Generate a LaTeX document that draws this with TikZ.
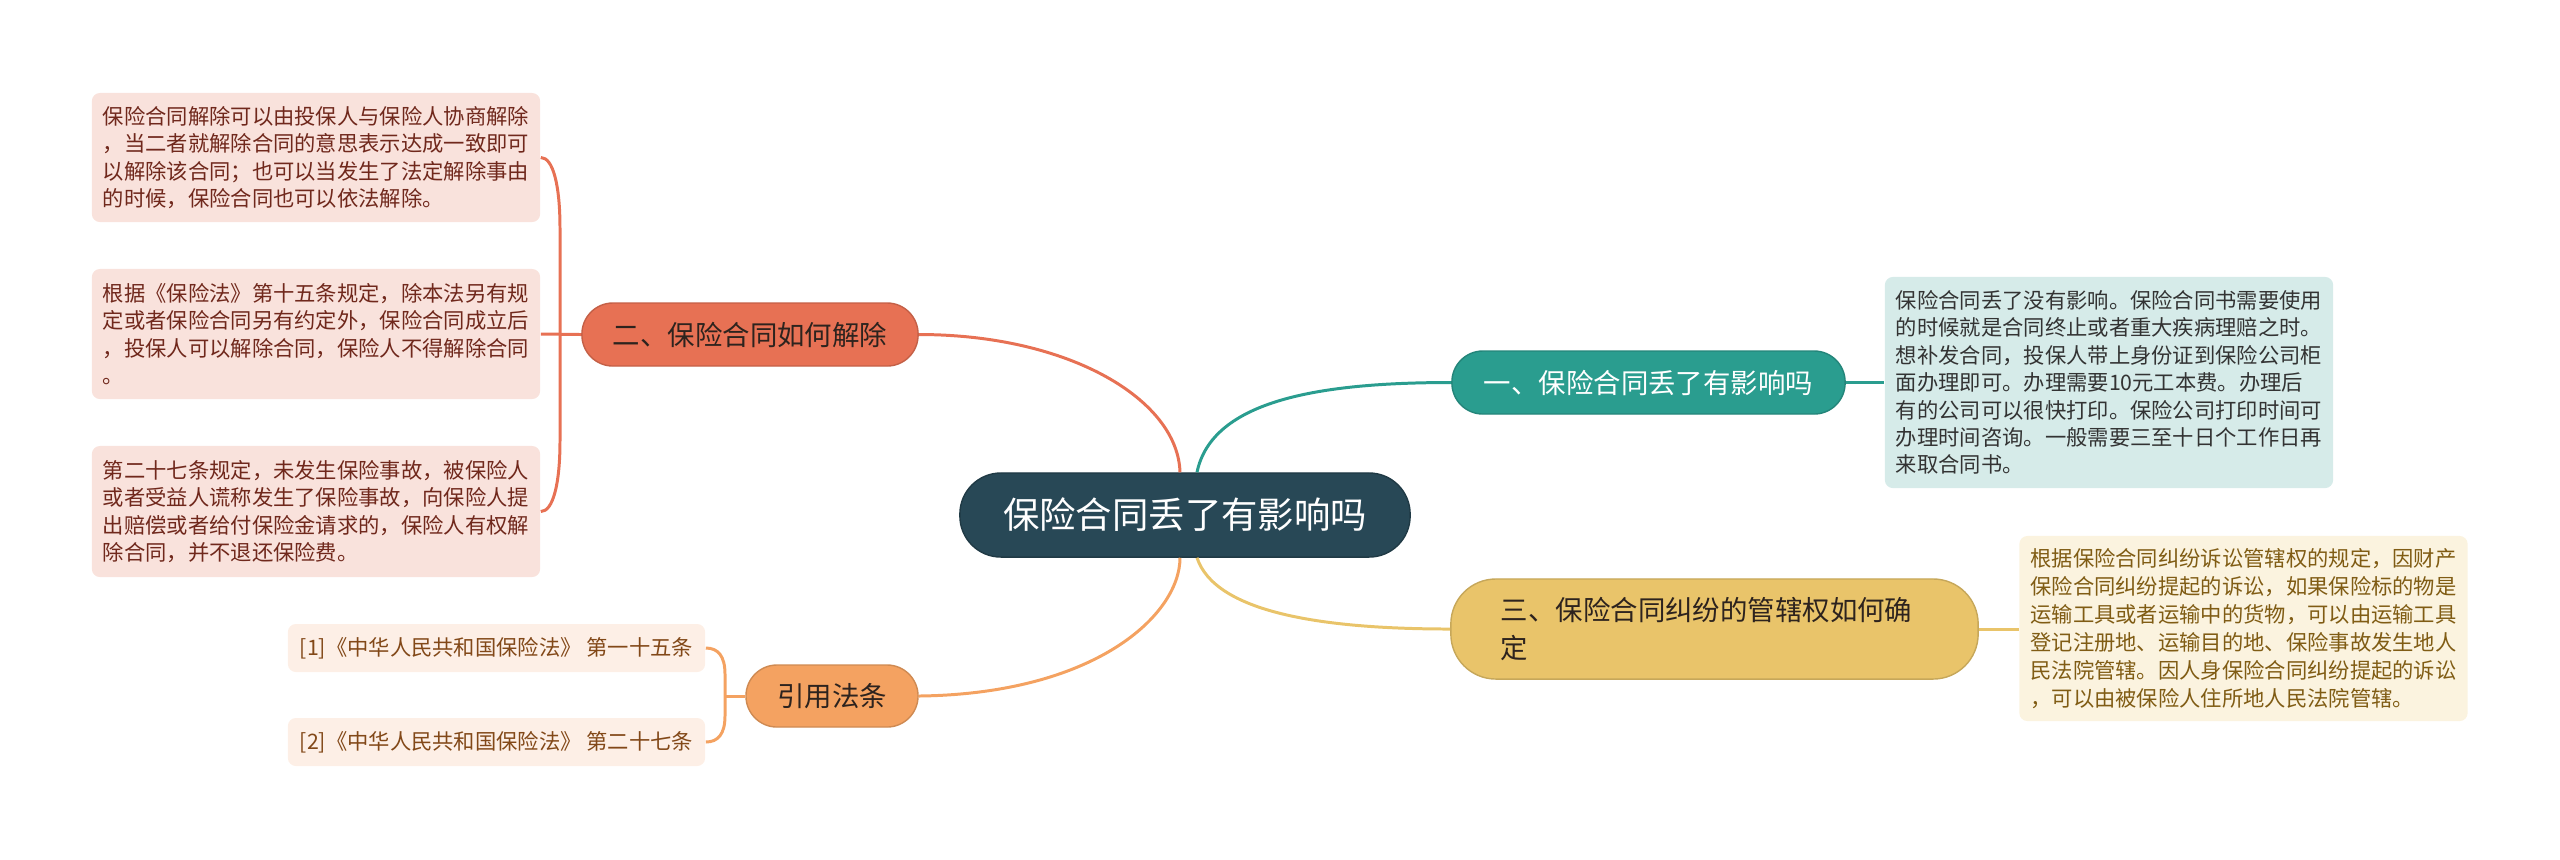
\documentclass[tikz,border=0pt]{standalone}
\usepackage{fontspec}
\setmainfont{Noto Sans CJK SC}
\usetikzlibrary{calc}
\definecolor{rootc}{RGB}{40,72,86}
\definecolor{tealc}{RGB}{42,157,143}
\definecolor{tealbg}{RGB}{214,235,233}
\definecolor{redc}{RGB}{231,113,84}
\definecolor{redbg}{RGB}{249,226,220}
\definecolor{redtx}{RGB}{112,40,28}
\definecolor{yelc}{RGB}{233,196,106}
\definecolor{yelbg}{RGB}{251,243,223}
\definecolor{yeltx}{RGB}{128,92,20}
\definecolor{orac}{RGB}{244,162,97}
\definecolor{orabg}{RGB}{253,239,230}
\definecolor{oratx}{RGB}{130,72,24}
\definecolor{darktx}{RGB}{45,35,30}
\tikzset{rootbox/.style={draw=rootc!80!black,fill=rootc,text=white,rounded corners=0.41cm,
   minimum width=4.5cm,minimum height=0.84cm,inner sep=0pt,font=\fontsize{10.35pt}{12pt}\selectfont},
 br/.style={rounded corners=0.31cm,minimum height=0.63cm,inner sep=0pt,line width=.4pt,
   font=\fontsize{7.8pt}{10.8pt}\selectfont},
 note/.style={rounded corners=0.08cm,align=left,text width=4.26cm,inner xsep=0.11cm,inner ysep=0pt,
   font=\fontsize{6.06pt}{7.8pt}\selectfont},
 cite/.style={rounded corners=0.08cm,fill=orabg,text=oratx,minimum width=4.17cm,minimum height=0.48cm,
   inner sep=0pt,font=\fontsize{6.06pt}{7.8pt}\selectfont},
 wire/.style={line width=.85pt}}
\begin{document}
\begin{tikzpicture}[x=0.01cm,y=-0.01cm]
\useasboundingbox (0,0) rectangle (2560,859);
% centre and main branches
\node[rootbox] (root) at (1185,515) {保险合同丢了有影响吗};
\node[br,fill=tealc,draw=tealc!85!black,text=white,minimum width=3.93cm] (b1) at (1648.5,382.5) {一、保险合同丢了有影响吗};
\node[br,fill=redc,draw=redc!85!black,text=darktx,minimum width=3.36cm] (b2) at (750,334.5) {二、保险合同如何解除};
\node[br,fill=yelc,draw=yelc!85!black,text=darktx,minimum width=5.27cm,minimum height=1cm,rounded corners=0.45cm,
  align=left,text width=4.27cm] (b3) at (1714.5,629) {三、保险合同纠纷的管辖权如何确\\定};
\node[br,fill=orac,draw=orac!85!black,text=darktx,minimum width=1.72cm,minimum height=0.62cm] (b4) at (832,696) {引用法条};
% detail boxes
\node[note,fill=tealbg,text=black!80,minimum height=2.11cm] (d1) at (2109,382.5) {保险合同丢了没有影响。保险合同书需要使用\\
的时候就是合同终止或者重大疾病理赔之时。\\
想补发合同，投保人带上身份证到保险公司柜\\
面办理即可。办理需要10元工本费。办理后\\
有的公司可以很快打印。保险公司打印时间可\\
办理时间咨询。一般需要三至十日个工作日再\\
来取合同书。};
\node[note,fill=redbg,text=redtx,minimum height=1.29cm] (dA) at (316,157.5) {保险合同解除可以由投保人与保险人协商解除\\
，当二者就解除合同的意思表示达成一致即可\\
以解除该合同；也可以当发生了法定解除事由\\
的时候，保险合同也可以依法解除。};
\node[note,fill=redbg,text=redtx,minimum height=1.30cm] (dB) at (316,334) {根据《保险法》第十五条规定，除本法另有规\\
定或者保险合同另有约定外，保险合同成立后\\
，投保人可以解除合同，保险人不得解除合同\\
。};
\node[note,fill=redbg,text=redtx,minimum height=1.31cm] (dC) at (316,511.5) {第二十七条规定，未发生保险事故，被保险人\\
或者受益人谎称发生了保险事故，向保险人提\\
出赔偿或者给付保险金请求的，保险人有权解\\
除合同，并不退还保险费。};
\node[note,fill=yelbg,text=yeltx,minimum height=1.85cm,font=\fontsize{6.06pt}{8pt}\selectfont] (d3) at (2243.5,628.5) {根据保险合同纠纷诉讼管辖权的规定，因财产\\
保险合同纠纷提起的诉讼，如果保险标的物是\\
运输工具或者运输中的货物，可以由运输工具\\
登记注册地、运输目的地、保险事故发生地人\\
民法院管辖。因人身保险合同纠纷提起的诉讼\\
，可以由被保险人住所地人民法院管辖。};
\node[cite] (c1) at (496.5,648) {[1]《中华人民共和国保险法》 第一十五条};
\node[cite] (c2) at (496.5,742) {[2]《中华人民共和国保险法》 第二十七条};
% bus points
\coordinate (rtop) at (560,228);
\coordinate (rbot) at (560,441);
\coordinate (otop) at (725,674);
\coordinate (obot) at (725,716);
% connectors
\draw[wire,redc] (b2.east) .. controls (1070,334.5) and (1178,400) .. ([xshift=-0.05cm]root.north);
\draw[wire,tealc] ([xshift=0.12cm]root.north) .. controls (1212,400) and (1320,382.5) .. (b1.west);
\draw[wire,orac] (b4.east) .. controls (1095,694) and (1180,615) .. ([xshift=-0.05cm]root.south);
\draw[wire,yelc] ([xshift=0.12cm]root.south) .. controls (1215,612) and (1320,629) .. (b3.west);
\draw[wire,tealc] (b1.east) -- (d1.west);
\draw[wire,yelc] (b3.east) -- (b3.east -| d3.west);
\draw[wire,redc] (dA.east) .. controls (553,157.5) and (560,185) .. (rtop) -- (rbot)
  .. controls (560,484) and (553,511.5) .. (dC.east);
\draw[wire,redc] (b2.west) -- (dB.east);
\draw[wire,orac] (c1.east) .. controls (718,648) and (725,656) .. (otop) -- (obot)
  .. controls (725,734) and (718,742) .. (c2.east);
\draw[wire,orac] (b4.west) -- (otop |- b4.west);
\end{tikzpicture}
\end{document}
